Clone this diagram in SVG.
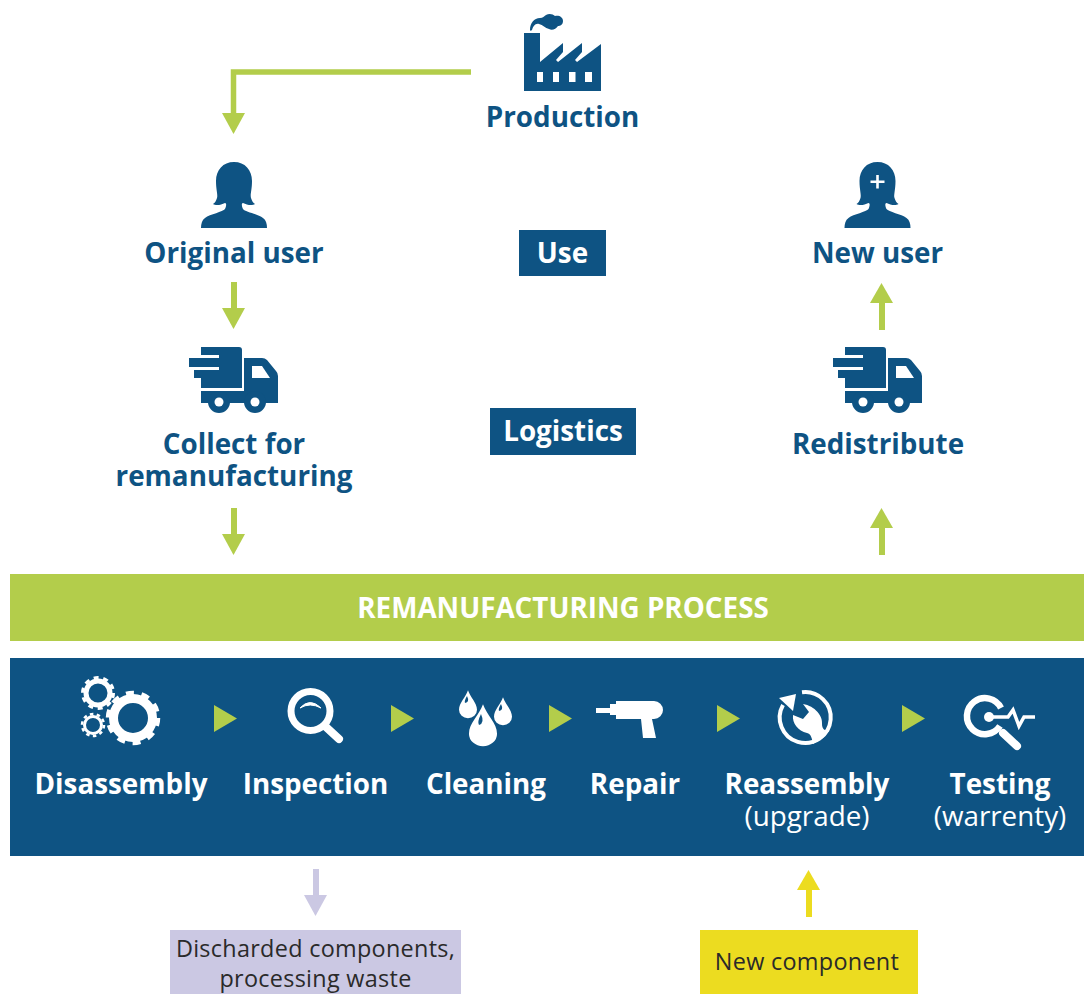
<svg xmlns="http://www.w3.org/2000/svg" width="1084" height="994" viewBox="0 0 1084 994">
<style>
text{font-family:"Open Sans","Noto Sans","DejaVu Sans",sans-serif}
.t{font-size:27.800px;font-weight:700;fill:#0e5383;text-anchor:middle}
.w{font-size:27.800px;font-weight:700;fill:#fff;text-anchor:middle}
.s{font-size:27.800px;font-weight:400;fill:#fff;text-anchor:middle}
.d{font-size:23.400px;font-weight:400;fill:#2a2a2a;text-anchor:middle;letter-spacing:.3px}
.b{fill:#0e5383}
.g{fill:#b3cd4b}
.ic{fill:#fff}
.ln{fill:none;stroke:#fff}
</style>
<defs>
<path id="person" class="b" d="M234 162C245 162 252 170 252 181C252 190 250 195 251 198C252 201 253 203 255 204C252 206 247 205 243 203C241 203 242 207 243 209C245 212 258 214 263 218C266 220 267 224 267 228H201C201 224 202 220 205 218C210 214 223 212 225 209C226 207 227 203 225 203C221 205 216 206 213 204C215 203 216 201 217 198C218 195 216 190 216 181C216 170 223 162 234 162Z"/>
<g id="truck">
<path class="b" d="M201 347H239Q242 347 242 350V388H201V378H194V370H219V367H189V358H219V355H201Z"/>
<path class="b" d="M244 358H262Q265 358 267 360L276 371Q278 373 278 376V403H244ZM201 391H244V403H201Z"/>
<path fill="#fff" d="M252 366H262L270 378H252Z"/>
<circle cx="219" cy="402" r="11" class="b"/><circle cx="219" cy="402" r="4.500" fill="#fff"/>
<circle cx="255" cy="402" r="11" class="b"/><circle cx="255" cy="402" r="4.500" fill="#fff"/>
</g>
<path id="drop" d="M0-24C-3-14-12-6-12 4A12 12 0 0 0 12 4C12-6 3-14 0-24Z"/>
<polygon id="tri" points="0,-13.500 23,0 0,13.500" class="g"/>
</defs>

<g id="connectors">
<path d="M471 72H233.500V114" fill="none" stroke="#b3cd4b" stroke-width="5.500"/>
<polygon class="g" points="222,113 245,113 233.500,134"/>
<rect class="g" x="231" y="282" width="6" height="28"/><polygon class="g" points="222,308 245,308 233.500,329"/>
<rect class="g" x="231" y="508" width="6" height="28"/><polygon class="g" points="222,534 245,534 233.500,555"/>
<rect class="g" x="879" y="302" width="6" height="28"/><polygon class="g" points="870,303 893,303 881.500,283"/>
<rect class="g" x="879" y="527" width="6" height="28"/><polygon class="g" points="870,528 893,528 881.500,508"/>
<rect x="313" y="869" width="6" height="28" fill="#cbc8e3"/><polygon points="304,895 327,895 315.500,916" fill="#cbc8e3"/>
<rect x="806" y="889" width="6" height="28" fill="#ecdc20"/><polygon points="797,890 820,890 808.500,870" fill="#ecdc20"/>
</g>

<g id="production">
<path class="b" d="M524 33H540V62L563 43V52L556 60 558 62 582 43V52L575 60 577 62 601 44V91H524Z"/>
<path class="b" d="M530 30C530 23 534 18 540 18C543 18 544 16 546 15C549 13 553 14 555 16C559 15 563 17 563 21C563 25 560 26 558 26C556 29 552 31 549 29C545 28 543 25 539 24C535 23 533 27 532 30C531 31 530 31 530 30Z"/>
<path fill="#fff" d="M537 72H543V82H537ZM553 72H559V82H553ZM569 72H575.500V82H569ZM585 72H592V82H585Z"/>
<text class="t" x="562.500" y="126.700">Production</text>
</g>
<g id="original-user">
<use href="#person"/>
<text class="t" x="234" y="262.700">Original user</text>
</g>
<g id="use">
<rect class="b" x="519" y="230" width="87" height="46"/>
<text class="w" x="562.500" y="262.700">Use</text>
</g>
<g id="new-user">
<use href="#person" x="643.500"/>
<path d="M876.200 175H878.800V180.400H884.500V183H878.800V188.500H876.200V183H870.500V180.400H876.200Z" fill="#fff"/>
<text class="t" x="877.500" y="262.700">New user</text>
</g>
<g id="collect">
<use href="#truck"/>
<text class="t" x="234" y="453.700">Collect for</text>
<text class="t" x="234" y="485.700">remanufacturing</text>
</g>
<g id="logistics">
<rect class="b" x="490" y="408" width="146" height="47"/>
<text class="w" x="563" y="440.700">Logistics</text>
</g>
<g id="redistribute">
<use href="#truck" x="644"/>
<text class="t" x="878" y="453.700">Redistribute</text>
</g>
<g id="process-bar">
<rect class="g" x="10" y="574" width="1074" height="67"/>
<text class="w" x="563" y="617.700">REMANUFACTURING PROCESS</text>
</g>
<g id="process-panel">
<rect class="b" x="10" y="658" width="1074" height="198"/>
<use href="#tri" x="214" y="718.500"/>
<use href="#tri" x="391" y="718.500"/>
<use href="#tri" x="549" y="718.500"/>
<use href="#tri" x="717" y="718.500"/>
<use href="#tri" x="902" y="718.500"/>
</g>
<g id="disassembly">
<circle class="ln" cx="98" cy="693" r="12" stroke-width="5"/>
<circle class="ln" cx="98" cy="693" r="15.500" stroke-width="3" stroke-dasharray="5 4.740"/>
<circle class="ln" cx="93" cy="725" r="8.500" stroke-width="3"/>
<circle class="ln" cx="93" cy="725" r="11" stroke-width="2.500" stroke-dasharray="3.500 3.410"/>
<circle class="ln" cx="133" cy="718" r="19.500" stroke-width="9"/>
<circle class="ln" cx="133" cy="718" r="25" stroke-width="4.500" stroke-dasharray="8 7.710"/>
<text class="w" x="121" y="793.500">Disassembly</text>
</g>
<g id="inspection">
<circle class="ln" cx="310.500" cy="711" r="19.500" stroke-width="7"/>
<path class="ln" d="M326 727L339 739" stroke-width="8" stroke-linecap="round"/>
<path class="ic" d="M300 708Q310 697 321 708Q310 702 300 708Z" stroke="#fff"/>
<text class="w" x="315.500" y="793.500">Inspection</text>
</g>
<g id="cleaning">
<use href="#drop" class="ic" transform="translate(468 707) scale(.75 .7)"/>
<use href="#drop" class="ic" transform="translate(503 714) scale(.75 .7)"/>
<use href="#drop" class="ic" transform="translate(483 729.500) scale(1.170 1.050)"/>
<path class="b" d="M467 696Q464 701 465 703Q470 702 467 696ZM501 704Q498 709 499 711Q504 710 501 704ZM481 714Q477 722 479 725Q485 723 481 714Z"/>
<text class="w" x="486" y="793.500">Cleaning</text>
</g>
<g id="repair">
<path class="ic" d="M596 708H610V704H616V701H654A9 9 0 0 1 654 719H652L656 738H643L641 719H616V715H610V713H596Z"/>
<text class="w" x="635" y="793.500">Repair</text>
</g>
<g id="reassembly">
<path class="ln" d="M802 692.200A25.500 25.500 0 1 1 783 705" stroke-width="4"/>
<polygon class="ic" points="779,698 796,694 793,711"/>
<path class="ic" d="M803 704L809 712 803 719 793 715C792 723 798 731 807 733C811 734 812 738 813 744L823 738 829 731C825 731 822 729 822 724C823 716 815 706 803 704Z"/>
<text class="w" x="807" y="793.500">Reassembly</text>
<text class="s" x="807" y="825.500">(upgrade)</text>
</g>
<g id="testing">
<path class="ln" d="M1001 708A18 18 0 1 0 1000 726" stroke-width="6.500"/>
<path class="ln" d="M1003 733L1017 746" stroke-width="8" stroke-linecap="round"/>
<circle cx="989" cy="717" r="5" fill="#fff"/>
<path class="ln" d="M989 717H1008L1013 710 1019 726 1024 717H1035" stroke-width="3.500"/>
<text class="w" x="1000" y="793.500">Testing</text>
<text class="s" x="1000" y="825.500">(warrenty)</text>
</g>
<g id="discarded">
<rect x="170" y="930" width="291" height="64" fill="#cbc8e3"/>
<text class="d" x="315.500" y="957">Discharded components,</text>
<text class="d" x="315.500" y="987">processing waste</text>
</g>
<g id="new-component">
<rect x="700" y="930" width="218" height="64" fill="#ecdc20"/>
<text class="d" x="807" y="970">New component</text>
</g>
</svg>
